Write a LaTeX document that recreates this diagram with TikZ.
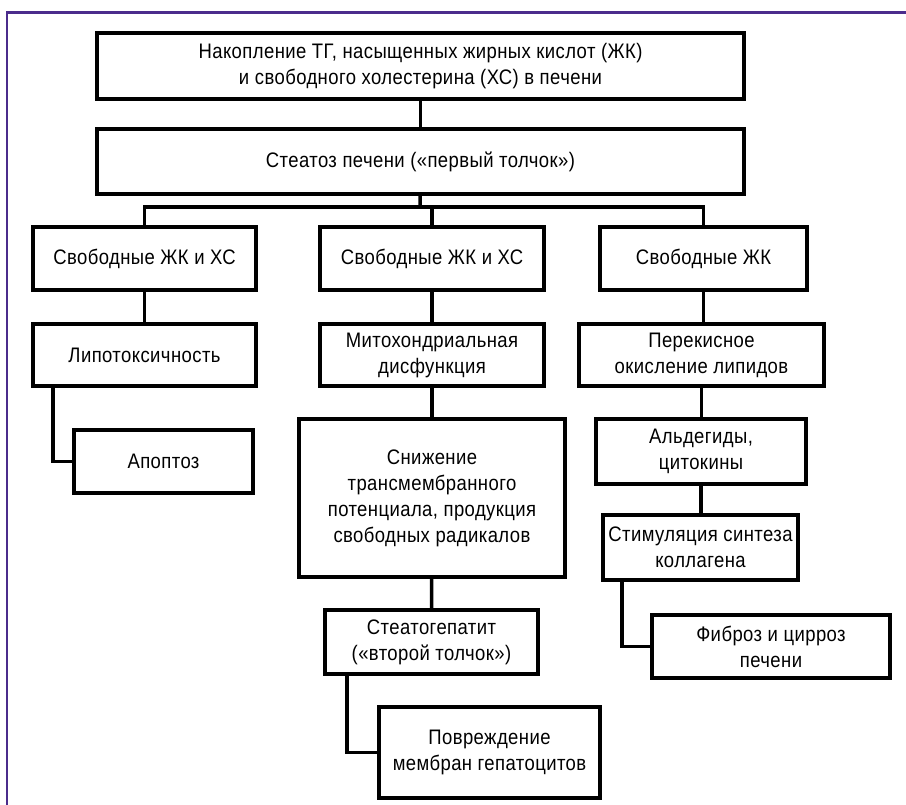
\documentclass[tikz,border=0pt]{standalone}
\usepackage{fontspec}
\setmainfont{Liberation Sans}[FakeStretch=0.88, LetterSpace=2]
\usepackage{xcolor}
\usepackage{tikz}

\definecolor{framepurple}{HTML}{4B2C8C}

\begin{document}
\begin{tikzpicture}[x=1pt, y=-1pt,
        box/.style={draw, line width=3.8pt, rectangle, align=center, inner sep=0pt,
            font=\fontsize{21}{26}\selectfont},
        link/.style={line width=3.5pt}]
        \useasboundingbox (0,0) rectangle (906,805);
        \draw[framepurple, line width=2.5pt] (7,805) -- (7,12.5) -- (906,12.5);

        \node[box, minimum width=647pt, minimum height=66pt] (accum) at (420.5,66)
            {Накопление ТГ, насыщенных жирных кислот (ЖК)\\и свободного холестерина (ХС) в печени};
        \node[box, minimum width=647pt, minimum height=65pt] (steat) at (420.5,161.5)
            {Стеатоз печени («первый толчок»)};

        \node[box, minimum width=223pt, minimum height=63pt] (ffa1) at (144.5,258.5) {Свободные ЖК и ХС};
        \node[box, minimum width=224pt, minimum height=63pt] (ffa2) at (432,258.5) {Свободные ЖК и ХС};
        \node[box, minimum width=207pt, minimum height=63pt] (ffa3) at (703.5,258.5) {Свободные ЖК};

        \node[box, minimum width=223pt, minimum height=62pt] (lipo) at (144.5,355) {Липотоксичность};
        \node[box, minimum width=179pt, minimum height=63pt] (apop) at (163.5,461.5) {Апоптоз};

        \node[box, minimum width=224pt, minimum height=62pt] (mito) at (432,355) {Митохондриальная\\дисфункция};
        \node[box, minimum width=266pt, minimum height=158pt] (drop) at (432,498)
            {Снижение\\трансмембранного\\потенциала, продукция\\свободных радикалов};
        \node[box, minimum width=213pt, minimum height=64pt] (nash) at (431.5,642) {Стеатогепатит\\(«второй толчок»)};
        \node[box, minimum width=221pt, minimum height=91pt] (membr) at (489.5,752.5) {Повреждение\\мембран гепатоцитов};

        \node[box, minimum width=245pt, minimum height=62pt] (perox) at (701.5,355) {Перекисное\\окисление липидов};
        \node[box, minimum width=210pt, minimum height=65pt] (ald) at (701,451.5) {Альдегиды,\\цитокины};
        \node[box, minimum width=195pt, minimum height=65pt] (stim) at (700.5,547.5) {Стимуляция синтеза\\коллагена};
        \node[box, minimum width=238pt, minimum height=63pt] (fibr) at (771,646.5) {Фиброз и цирроз\\печени};

        \coordinate (bus) at (420,207);

        \draw[link] (accum) -- (steat);
        \draw[link] (steat) -- (bus);
        \draw[link] (ffa1.north) |- (bus) -| (ffa3.north);
        \draw[link] (ffa2.north) -- (ffa2.north |- bus);

        \draw[link] (ffa1) -- (lipo);
        \draw[link] ([xshift=22pt]lipo.south west) |- (apop.west);

        \draw[link] (ffa2) -- (mito);
        \draw[link] (mito) -- (drop);
        \draw[link] (drop) -- (nash);
        \draw[link] ([xshift=24pt]nash.south west) |- (membr.west);

        \draw[link] (ffa3.south) -- (ffa3.south |- perox.north);
        \draw[link] (perox.south) -- (perox.south |- ald.north);
        \draw[link] (ald.south) -- (ald.south |- stim.north);
        \draw[link] ([xshift=21pt]stim.south west) |- (fibr.west);
    \end{tikzpicture}
\end{document}
